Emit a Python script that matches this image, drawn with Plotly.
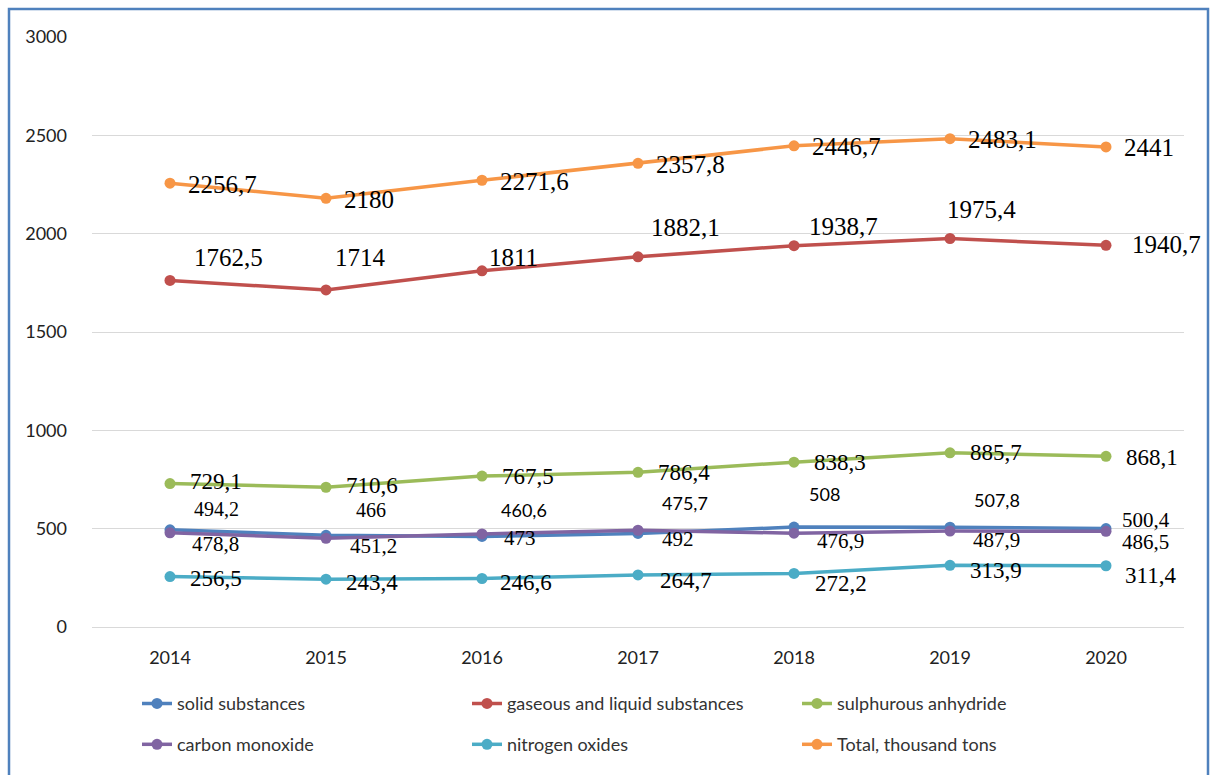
import plotly.graph_objects as go

years = ["2014", "2015", "2016", "2017", "2018", "2019", "2020"]
solid = [494.2, 466, 460.6, 475.7, 508, 507.8, 500.4]
gaseous = [1762.5, 1714, 1811, 1882.1, 1938.7, 1975.4, 1940.7]
sulphur = [729.1, 710.6, 767.5, 786.4, 838.3, 885.7, 868.1]
carbon = [478.8, 451.2, 473, 492, 476.9, 487.9, 486.5]
nitrogen = [256.5, 243.4, 246.6, 264.7, 272.2, 313.9, 311.4]
total = [2256.7, 2180, 2271.6, 2357.8, 2446.7, 2483.1, 2441]

names = ["solid substances", "gaseous and liquid substances", "sulphurous anhydride",
         "carbon monoxide", "nitrogen oxides", "Total, thousand tons"]
series = [solid, gaseous, sulphur, carbon, nitrogen, total]
colors = ["#4F81BD", "#C0504D", "#9BBB59", "#8064A2", "#4BACC6", "#F79646"]
legend_ids = ["legend", "legend", "legend", "legend2", "legend2", "legend2"]

SERIF = "Liberation Serif, Times New Roman, serif"
SANS = "Lato, Calibri, sans-serif"

# label placement (pixel offsets) per series: (xanchor, xshift list, yshift list, fonts, sizes)
label_style = {
    0: ("center", [46, 45, 42, 47, 30, 47, 40], [21, 25, 26, 30, 33, 27, 9],
        [SERIF, SERIF, SANS, SANS, SANS, SANS, SERIF], [20, 20, 18, 18, 18, 18, 21]),
    1: ("center", [58, 34, 31, 47, 49, 31, 60], [23, 32, 13, 29, 19, 29, 1],
        [SERIF] * 7, [25] * 7),
    2: ("left", [18] * 7, [2, 2, 0, 0, 0, 0, -1], [SERIF] * 7, [23] * 7),
    3: ("left", [20, 22, 20, 22, 21, 21, 14], [-11, -8, -4, -9, -8, -9, -11], [SERIF] * 7, [21] * 7),
    4: ("left", [18, 18, 16, 20, 19, 18, 17], [-2, -3, -4, -6, -10, -5, -10], [SERIF] * 7, [23] * 7),
    5: ("left", [16] * 7, [-1, -1, -1, -1, -1, -1, -1], [SERIF] * 7, [25] * 7),
}

fig = go.Figure()
for i, (nm, vals, col, lg) in enumerate(zip(names, series, colors, legend_ids)):
    fig.add_trace(go.Scatter(
        x=years, y=vals, name=nm, mode="lines+markers",
        line=dict(color=col, width=3.5),
        marker=dict(color=col, size=11),
        legend=lg,
    ))

annotations = []
for i, vals in enumerate(series):
    xa, xs, ys, fonts, sizes = label_style[i]
    for j, v in enumerate(vals):
        txt = ("%g" % v).replace(".", ",")
        annotations.append(dict(
            x=j, y=v, xref="x", yref="y", text=txt, showarrow=False,
            xanchor=xa, yanchor="middle", xshift=xs[j], yshift=ys[j],
            font=dict(family=fonts[j], size=sizes[j], color="#000000"),
        ))

W, H = 1210, 775
L, R, T, B = 92, 26, 37, 146
pw, ph = W - L - R, H - T - B

def px(x):
    return (x - L) / pw

def py(y):
    return (H - B - y) / ph

fig.update_layout(
    width=W, height=H,
    margin=dict(l=L, r=R, t=T, b=B),
    paper_bgcolor="white", plot_bgcolor="white",
    font=dict(family=SANS, size=18, color="#404040"),
    annotations=annotations,
    xaxis=dict(type="category", range=[-0.5, 6.5], showgrid=False, showline=False,
               ticks="", tickfont=dict(family=SANS, size=18, color="#222222"),
               ticklabelstandoff=18),
    yaxis=dict(range=[0, 3000], dtick=500, showgrid=True, gridcolor="#D9D9D9", gridwidth=1,
               zeroline=True, zerolinecolor="#D9D9D9", zerolinewidth=1, showline=False,
               tickfont=dict(family=SANS, size=18, color="#222222"), ticklabelstandoff=24),
    legend=dict(orientation="h", x=px(137), y=py(706), xanchor="left", yanchor="middle",
                entrywidth=285, font=dict(family=SANS, size=18, color="#333333"),
                bgcolor="rgba(0,0,0,0)"),
    legend2=dict(orientation="h", x=px(137), y=py(747), xanchor="left", yanchor="middle",
                 entrywidth=285, font=dict(family=SANS, size=18, color="#333333"),
                 bgcolor="rgba(0,0,0,0)"),
    shapes=[dict(type="rect", xref="paper", yref="paper",
                 x0=px(9), x1=px(1208), y0=py(800), y1=py(9),
                 line=dict(color="#4F81BD", width=2.5), fillcolor="rgba(0,0,0,0)",
                 layer="below")],
    showlegend=True,
)

fig.write_html("out.html")
